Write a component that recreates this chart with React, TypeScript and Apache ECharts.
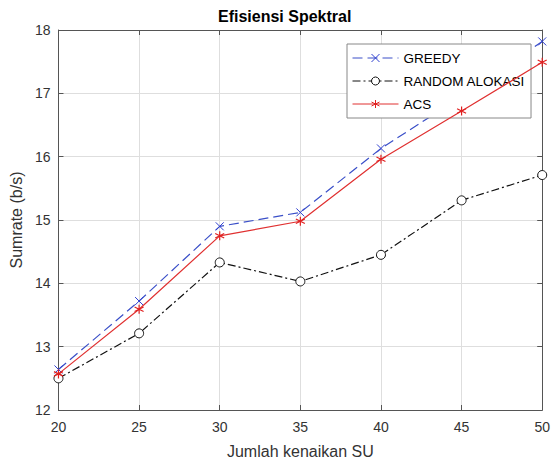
import { useEffect, useRef } from 'react';
import * as echarts from 'echarts';

const suCounts = [20, 25, 30, 35, 40, 45, 50];
const greedy = [12.64, 13.72, 14.9, 15.12, 16.13, 16.95, 17.82];
const randomAlokasi = [12.5, 13.21, 14.33, 14.03, 14.45, 15.31, 15.71];
const acs = [12.57, 13.59, 14.75, 14.98, 15.96, 16.72, 17.49];
const seriesNames = ['GREEDY', 'RANDOM ALOKASI', 'ACS'];

const X_PATH = 'path://M0,0L10,10M10,0L0,10';
const STAR_PATH = 'path://M5,0L5,10M0.67,2.5L9.33,7.5M0.67,7.5L9.33,2.5';
const FONT = 'Liberation Sans, Arial, sans-serif';

const toPairs = (ys: number[]) => suCounts.map((x, i) => [x, ys[i]]);

export default function App() {
  const ref = useRef<HTMLDivElement>(null);
  useEffect(() => {
    if (!ref.current) return;
    const chart = echarts.init(ref.current, undefined, { renderer: 'svg' });
    const axisLineColor = '#555';
    const labelColor = '#333';
    chart.setOption({
      animation: false,
      backgroundColor: '#fff',
      textStyle: { fontFamily: FONT },
      title: {
        text: 'Efisiensi Spektral',
        left: 218,
        top: 8,
        padding: 0,
        textStyle: { fontSize: 16, fontWeight: 'bold', color: '#000', fontFamily: FONT },
      },
      legend: {
        data: seriesNames,
        orient: 'vertical',
        left: 347,
        top: 44,
        itemWidth: 46,
        itemHeight: 10,
        itemGap: 9,
        padding: [7, 6, 7, 5],
        backgroundColor: '#fff',
        borderColor: '#888',
        borderWidth: 1,
        itemStyle: { borderWidth: 1 },
        lineStyle: { width: 1 },
        textStyle: { fontSize: 13.5, color: '#000', fontFamily: FONT },
      },
      grid: { left: 58, right: 5, top: 30, bottom: 49 },
      xAxis: [
        {
          type: 'value',
          min: 20,
          max: 50,
          interval: 5,
          name: 'Jumlah kenaikan SU',
          nameLocation: 'middle',
          nameGap: 33,
          nameTextStyle: { fontSize: 16, color: labelColor, fontFamily: FONT },
          axisLine: { lineStyle: { color: axisLineColor } },
          axisTick: { inside: true, length: 5, lineStyle: { color: axisLineColor } },
          axisLabel: { fontSize: 14, color: labelColor, margin: 10 },
          splitLine: { show: true, lineStyle: { color: '#dedede' } },
        },
        {
          type: 'value',
          position: 'top',
          min: 20,
          max: 50,
          interval: 5,
          axisLine: { show: true, lineStyle: { color: axisLineColor } },
          axisTick: { show: true, inside: true, length: 5, lineStyle: { color: axisLineColor } },
          axisLabel: { show: false },
          splitLine: { show: false },
        },
      ],
      yAxis: [
        {
          type: 'value',
          min: 12,
          max: 18,
          interval: 1,
          name: 'Sumrate (b/s)',
          nameLocation: 'middle',
          nameGap: 28,
          nameRotate: 90,
          nameTextStyle: { fontSize: 16, color: labelColor, fontFamily: FONT },
          axisLine: { show: true, lineStyle: { color: axisLineColor } },
          axisTick: { show: true, inside: true, length: 5, lineStyle: { color: axisLineColor } },
          axisLabel: { fontSize: 14, color: labelColor, margin: 8 },
          splitLine: { show: true, lineStyle: { color: '#dedede' } },
        },
        {
          type: 'value',
          position: 'right',
          min: 12,
          max: 18,
          interval: 1,
          axisLine: { show: true, lineStyle: { color: axisLineColor } },
          axisTick: { show: true, inside: true, length: 5, lineStyle: { color: axisLineColor } },
          axisLabel: { show: false },
          splitLine: { show: false },
        },
      ],
      series: [
        {
          name: seriesNames[0],
          type: 'line',
          data: toPairs(greedy),
          symbol: X_PATH,
          symbolSize: 8,
          itemStyle: { color: '#2f3fd0', borderColor: '#2f3fd0', borderWidth: 1 },
          lineStyle: { color: '#3a4fc8', width: 1.2, type: [10, 5] },
          z: 3,
        },
        {
          name: seriesNames[1],
          type: 'line',
          data: toPairs(randomAlokasi),
          symbol: 'circle',
          symbolSize: 9,
          itemStyle: { color: '#fff', borderColor: '#111', borderWidth: 1 },
          lineStyle: { color: '#111', width: 1.2, type: [8, 3, 2, 3] },
          z: 2,
        },
        {
          name: seriesNames[2],
          type: 'line',
          data: toPairs(acs),
          symbol: STAR_PATH,
          symbolSize: 9,
          itemStyle: { color: '#e02020', borderColor: '#e02020', borderWidth: 1.2 },
          lineStyle: { color: '#e03030', width: 1.2, type: 'solid' },
          z: 4,
        },
      ],
    });
    return () => chart.dispose();
  }, []);
  return (
    <div
      ref={ref}
      style={{ position: 'fixed', left: 0, top: 0, width: 553, height: 464 }}
    />
  );
}
